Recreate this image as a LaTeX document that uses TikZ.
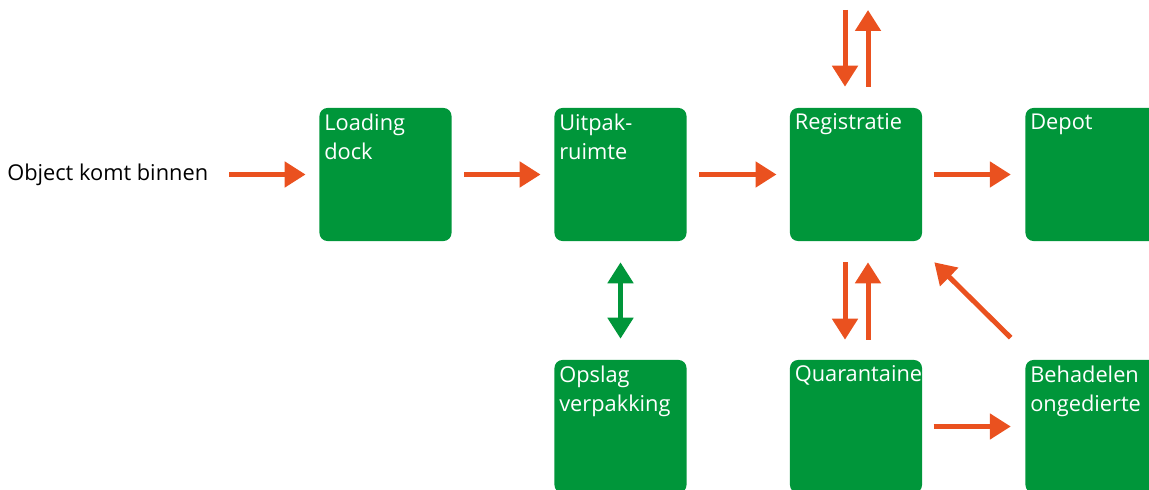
\documentclass[tikz,border=0pt]{standalone}
\usepackage{fontspec}
\setmainfont{Open Sans}
\usetikzlibrary{arrows.meta,positioning}
\definecolor{depotgreen}{RGB}{0,150,58}
\definecolor{flowred}{RGB}{234,81,31}

\begin{document}
\begin{tikzpicture}[
        x=0.025cm, y=-0.025cm,
        font=\fontsize{15.5}{20.8}\selectfont,
        room/.style={
            rectangle, fill=depotgreen, draw=none, rounded corners=0.2cm,
            minimum width=3.3cm, minimum height=3.325cm, inner sep=0pt
        },
        roomtext/.style={
            text=white, align=left, inner sep=0pt, anchor=north west
        },
        flow/.style={
            draw=flowred, line width=0.125cm,
            -{Triangle[length=0.525cm,width=0.625cm]}
        },
        swap/.style={
            draw=depotgreen, line width=0.125cm,
            {Triangle[length=0.525cm,width=0.625cm]}-{Triangle[length=0.525cm,width=0.625cm]},
            shorten <=0.525cm, shorten >=0.525cm
        }
    ]
        \useasboundingbox (0,0) rectangle (1149,490);
        \clip (0,0) rectangle (1149,490);

        % Ingang
        \node[inner sep=0pt, anchor=west] (obj) at (7,174.5) {Object komt binnen};

        % Bovenste rij
        \node[room] (load) at (385.5,174.5) {};
        \node[room] (uitpak) at (620.5,174.5) {};
        \node[room] (reg) at (856,174.5) {};
        \node[room] (depot) at (1091.5,174.5) {};

        % Onderste rij
        \node[room] (opslag) at (620.5,426.5) {};
        \node[room] (quar) at (856,426.5) {};
        \node[room] (beh) at (1091.5,426.5) {};

        % Teksten
        \node[roomtext, below right=0.14cm and 0.12cm of load.north west] (loadtxt) {Loading\\dock};
        \node[roomtext, below right=0.14cm and 0.12cm of uitpak.north west] (uitpaktxt) {Uitpak-\\ruimte};
        \node[roomtext, below right=0.14cm and 0.12cm of reg.north west] (regtxt) {Registratie};
        \node[roomtext, below right=0.14cm and 0.12cm of depot.north west] (depottxt) {Depot};
        \node[roomtext, below right=0.14cm and 0.12cm of opslag.north west] (opslagtxt) {Opslag\\verpakking};
        \node[roomtext, below right=0.14cm and 0.12cm of quar.north west] (quartxt) {Quarantaine};
        \node[roomtext, below right=0.14cm and 0.12cm of beh.north west] (behtxt) {Behadelen\\ongedierte};

        % Buiten (boven registratie)
        \coordinate (extin) at (845,10);
        \coordinate (extout) at (868,10);

        % Stromen
        \draw[flow, shorten <=0.525cm, shorten >=0.34cm] (obj.east) -- (load.west);
        \draw[flow, shorten <=0.31cm, shorten >=0.34cm] (load.east) -- (uitpak.west);
        \draw[flow, shorten <=0.31cm, shorten >=0.33cm] (uitpak.east) -- (reg.west);
        \draw[flow, shorten <=0.28cm, shorten >=0.36cm] (reg.east) -- (depot.west);
        \draw[flow, shorten <=0.28cm, shorten >=0.36cm] (quar.east) -- (beh.west);

        \draw[flow, shorten >=0.525cm] (extin) -- (extin |- reg.north);
        \draw[flow, shorten <=0.525cm] (extout |- reg.north) -- (extout);

        \draw[flow, shorten <=0.525cm, shorten >=0.5cm] ([xshift=-0.275cm]reg.south) -- ([xshift=-0.275cm]quar.north);
        \draw[flow, shorten <=0.5cm, shorten >=0.525cm] ([xshift=0.3cm]quar.north) -- ([xshift=0.3cm]reg.south);

        \draw[flow] ([shift={(-14.5,-22)}]beh.north west) -- ([shift={(12,21)}]reg.south east);

        \draw[swap] (uitpak.south) -- (opslag.north);

    \end{tikzpicture}
\end{document}
